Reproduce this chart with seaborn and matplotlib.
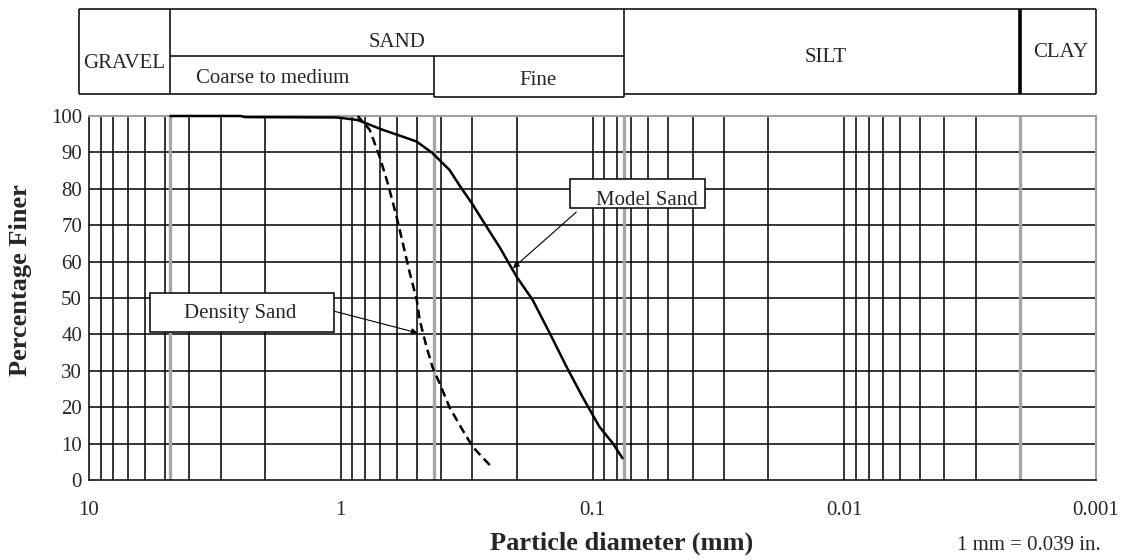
import pandas as pd
import matplotlib
matplotlib.use("Agg")
import matplotlib.pyplot as plt
from matplotlib.patches import Rectangle
from matplotlib.ticker import NullLocator
import seaborn as sns

# grain size curves: particle diameter (mm) vs percentage finer
model_d = [4.75, 2.5, 2.4, 1.04, 0.95, 0.856, 0.767, 0.681, 0.583, 0.5, 0.432, 0.40,
           0.37, 0.335, 0.302, 0.263, 0.234, 0.2, 0.173, 0.148, 0.1266, 0.1095,
           0.0938, 0.0833, 0.076]
model_pf = [100, 100, 99.7, 99.6, 99.3, 98.9, 97.6, 96.2, 94.6, 93.0, 89.8, 87.5,
            85.2, 80.6, 76.1, 69.5, 64.0, 55.8, 49.5, 40.4, 31.0, 22.8,
            14.6, 10.2, 6.0]
density_d = [0.856, 0.767, 0.700, 0.651, 0.600, 0.567, 0.532, 0.499, 0.486,
             0.456, 0.432, 0.405, 0.370, 0.328, 0.299, 0.256]
density_pf = [100, 96.2, 88.7, 81.6, 72.3, 65.1, 56.9, 49.5, 44.0,
              36.5, 31.0, 26.6, 20.0, 13.7, 9.1, 4.1]

# soil class boundaries (mm) and axis ticks
boundaries = [4.75, 0.425, 0.075, 0.002]
x_ticks = [10, 1, 0.1, 0.01, 0.001]
x_ticklabels = ['10', '1', '0.1', '0.01', '0.001']
y_ticks = list(range(0, 101, 10))

df = pd.concat([
    pd.DataFrame({'d': model_d, 'pf': model_pf, 'sample': 'Model Sand'}),
    pd.DataFrame({'d': density_d, 'pf': density_pf, 'sample': 'Density Sand'}),
])

sns.set_style("white")
plt.rcParams['font.family'] = ['Liberation Serif', 'DejaVu Serif']

W, H = 1132, 560
fig = plt.figure(figsize=(W / 100, H / 100), dpi=100)
ax = fig.add_axes([89 / W, 1 - 480 / H, (1096 - 89) / W, (480 - 116) / H])

# grid: black at every log subdivision, grey at class boundaries
minor = [m * 10.0 ** e for e in range(-3, 1) for m in range(2, 10)]
for v in minor + [1, 0.1, 0.01]:
    ax.axvline(v, color='black', lw=1.1, zorder=1)
for v in y_ticks[1:-1]:
    ax.axhline(v, color='black', lw=1.1, zorder=1)
for b in boundaries:
    ax.axvline(b, color='#a6a6a6', lw=2.4, zorder=1.5)

sns.lineplot(data=df, x='d', y='pf', style='sample', color='black', lw=1.8,
             dashes={'Model Sand': '', 'Density Sand': (3.5, 2)},
             legend=False, ax=ax, zorder=3)
for ln in ax.get_lines()[-2:]:
    ln.set_clip_on(False)

ax.set_xscale('log')
ax.set_xlim(10, 0.001)
ax.set_ylim(0, 100)
ax.set_xticks(x_ticks)
ax.set_xticklabels(x_ticklabels)
ax.xaxis.set_minor_locator(NullLocator())
ax.set_yticks(y_ticks)
ax.set_xlabel('')
ax.set_ylabel('')
ax.tick_params(axis='x', length=3, width=1.1, pad=12, labelsize=15, color='black')
ax.tick_params(axis='y', length=0, pad=5, labelsize=15)
for side in ['left', 'bottom']:
    ax.spines[side].set_color('black')
    ax.spines[side].set_linewidth(1.1)
for side in ['top', 'right']:
    ax.spines[side].set_color('#a0a0a0')
    ax.spines[side].set_linewidth(1.5)

# callout boxes
ax.add_patch(Rectangle((5.73, 40.7), 1.066 - 5.73, 51.5 - 40.7, facecolor='white',
                       edgecolor='black', lw=1.1, zorder=4))
ax.text(2.52, 44.5, 'Density Sand', ha='center', va='baseline', fontsize=15, zorder=5)
ax.annotate('', xy=(0.495, 40.4), xytext=(1.066, 46.4), zorder=5,
            arrowprops=dict(arrowstyle='-|>', lw=0.8, color='black',
                            mutation_scale=9, shrinkA=0, shrinkB=0))

ax.add_patch(Rectangle((0.123, 74.7), 0.0357 - 0.123, 82.7 - 74.7, facecolor='white',
                       edgecolor='black', lw=1.1, zorder=4))
ax.text(0.061, 75.5, 'Model Sand', ha='center', va='baseline', fontsize=15, zorder=5)
ax.annotate('', xy=(0.207, 58.2), xytext=(0.116, 73.6), zorder=5,
            arrowprops=dict(arrowstyle='-|>', lw=0.8, color='black',
                            mutation_scale=9, shrinkA=0, shrinkB=0))

# soil classification table above the plot (y in pixel rows)
tab = fig.add_axes([89 / W, 1 - 97 / H, (1096 - 89) / W, (97 - 9) / H])
tab.set_xscale('log')
tab.set_xlim(10, 0.001)
tab.set_ylim(97, 9)
tab.axis('off')
kw = dict(color='black', lw=1.1, clip_on=False)
tab.hlines(9, 11, 0.001, **kw)
tab.hlines(94, 11, 0.425, **kw)
tab.hlines(97, 0.425, 0.075, **kw)
tab.hlines(94, 0.075, 0.001, **kw)
tab.hlines(56, 4.75, 0.075, **kw)
tab.vlines([11, 4.75, 0.001], 9, 94, **kw)
tab.vlines(0.425, 56, 97, **kw)
tab.vlines(0.075, 9, 97, **kw)
tab.vlines(0.002, 9, 94, color='black', lw=2.6, clip_on=False)
tab.text(7.23, 68, 'GRAVEL', ha='center', va='baseline', fontsize=15)
tab.text(0.597, 47, 'SAND', ha='center', va='baseline', fontsize=15)
tab.text(3.76, 83, 'Coarse to medium', ha='left', va='baseline', fontsize=15)
tab.text(0.164, 85, 'Fine', ha='center', va='baseline', fontsize=15)
tab.text(0.0119, 62, 'SILT', ha='center', va='baseline', fontsize=15)
tab.text(0.00138, 57, 'CLAY', ha='center', va='baseline', fontsize=15)

fig.text(21 / W, 1 - 280 / H, 'Percentage Finer', rotation=90, ha='center',
         va='center', fontsize=19, fontweight='bold')
fig.text(622 / W, 1 - 550 / H, 'Particle diameter (mm)', ha='center',
         va='baseline', fontsize=19, fontweight='bold')
fig.text(1029 / W, 1 - 550 / H, '1 mm = 0.039 in.', ha='center', va='baseline', fontsize=15)

fig.savefig('out.png', dpi=100)
